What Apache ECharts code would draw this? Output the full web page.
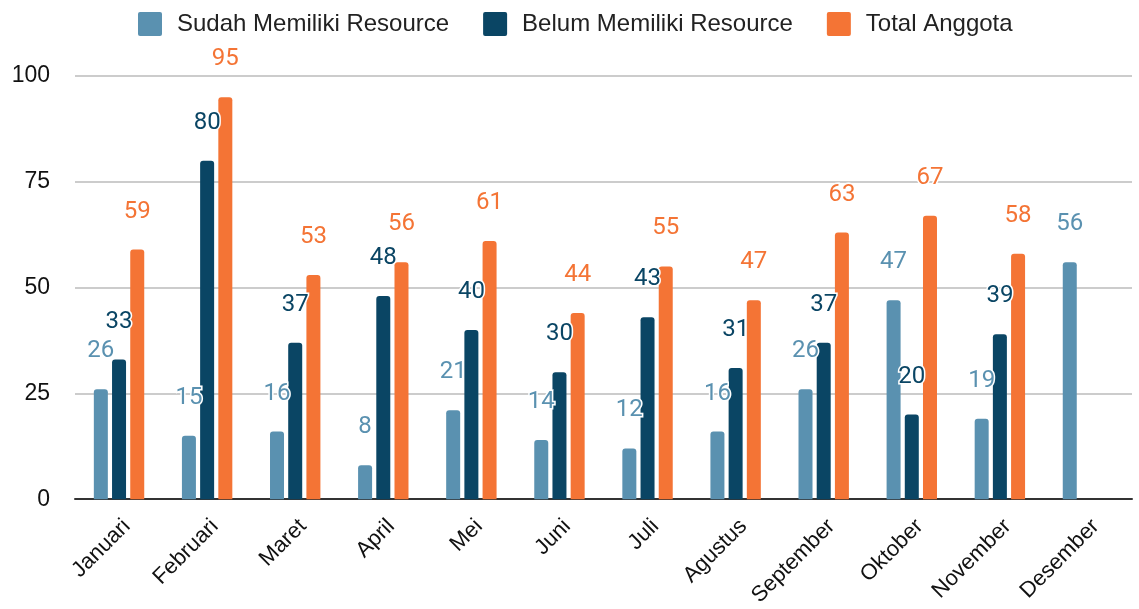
<!DOCTYPE html>
<html>
<head>
<meta charset="utf-8">
<script src="https://cdn.jsdelivr.net/npm/echarts@6/dist/echarts.min.js"></script>
<style>
	html, body { margin: 0; padding: 0; background: #fff; }
	#chart { width: 1139px; height: 609px; }
</style>
</head>
<body>
<div id="chart"></div>
<script>
	var months = ['Januari', 'Februari', 'Maret', 'April', 'Mei', 'Juni', 'Juli', 'Agustus', 'September', 'Oktober', 'November', 'Desember'];
	var sudah = [26, 15, 16, 8, 21, 14, 12, 16, 26, 47, 19, 56];
	var belum = [33, 80, 37, 48, 40, 30, 43, 31, 37, 20, 39, null];
	var total = [59, 95, 53, 56, 61, 44, 55, 47, 63, 67, 58, null];
	var yTicks = [0, 25, 50, 75, 100];

	var colors = ['#5a91b0', '#0a4564', '#f47435'];

	function makeSeries(name, data, color) {
		return {
			name: name,
			type: 'bar',
			data: data,
			barWidth: 14,
			barGap: '30%',
			itemStyle: { color: color, borderRadius: [3, 3, 0, 0] },
			label: {
				show: true,
				position: 'top',
				distance: 26,
				color: color,
				fontSize: 24,
				fontFamily: 'Roboto',
				textBorderColor: '#fff',
				textBorderWidth: 3
			}
		};
	}

	var chart = echarts.init(document.getElementById('chart'));
	chart.setOption({
		animation: false,
		color: colors,
		legend: {
			top: 7,
			left: 133,
			itemWidth: 24,
			itemHeight: 24,
			itemGap: 34,
			icon: 'path://M2,0 H22 A2,2 0 0 1 24,2 V22 A2,2 0 0 1 22,24 H2 A2,2 0 0 1 0,22 V2 A2,2 0 0 1 2,0 Z',
			textStyle: { fontSize: 24, color: '#222', fontFamily: 'Liberation Sans', padding: [0, 0, 0, 10] }
		},
		grid: { left: 75, right: 7, top: 76, bottom: 106 },
		xAxis: {
			type: 'category',
			data: months,
			axisTick: { show: false },
			axisLine: { lineStyle: { color: '#333', width: 2 } },
			axisLabel: {
				rotate: 45,
				fontSize: 22,
				color: '#111',
				fontFamily: 'Liberation Sans',
				margin: 16,
				verticalAlign: 'top'
			}
		},
		yAxis: {
			type: 'value',
			min: yTicks[0],
			max: yTicks[yTicks.length - 1],
			interval: 25,
			axisLabel: { fontSize: 23, color: '#111', fontFamily: 'Liberation Sans', margin: 25 },
			splitLine: { lineStyle: { color: '#ccc', width: 2 } }
		},
		series: [
			makeSeries('Sudah Memiliki Resource', sudah, colors[0]),
			makeSeries('Belum Memiliki Resource', belum, colors[1]),
			makeSeries('Total Anggota', total, colors[2])
		]
	});
</script>
</body>
</html>
